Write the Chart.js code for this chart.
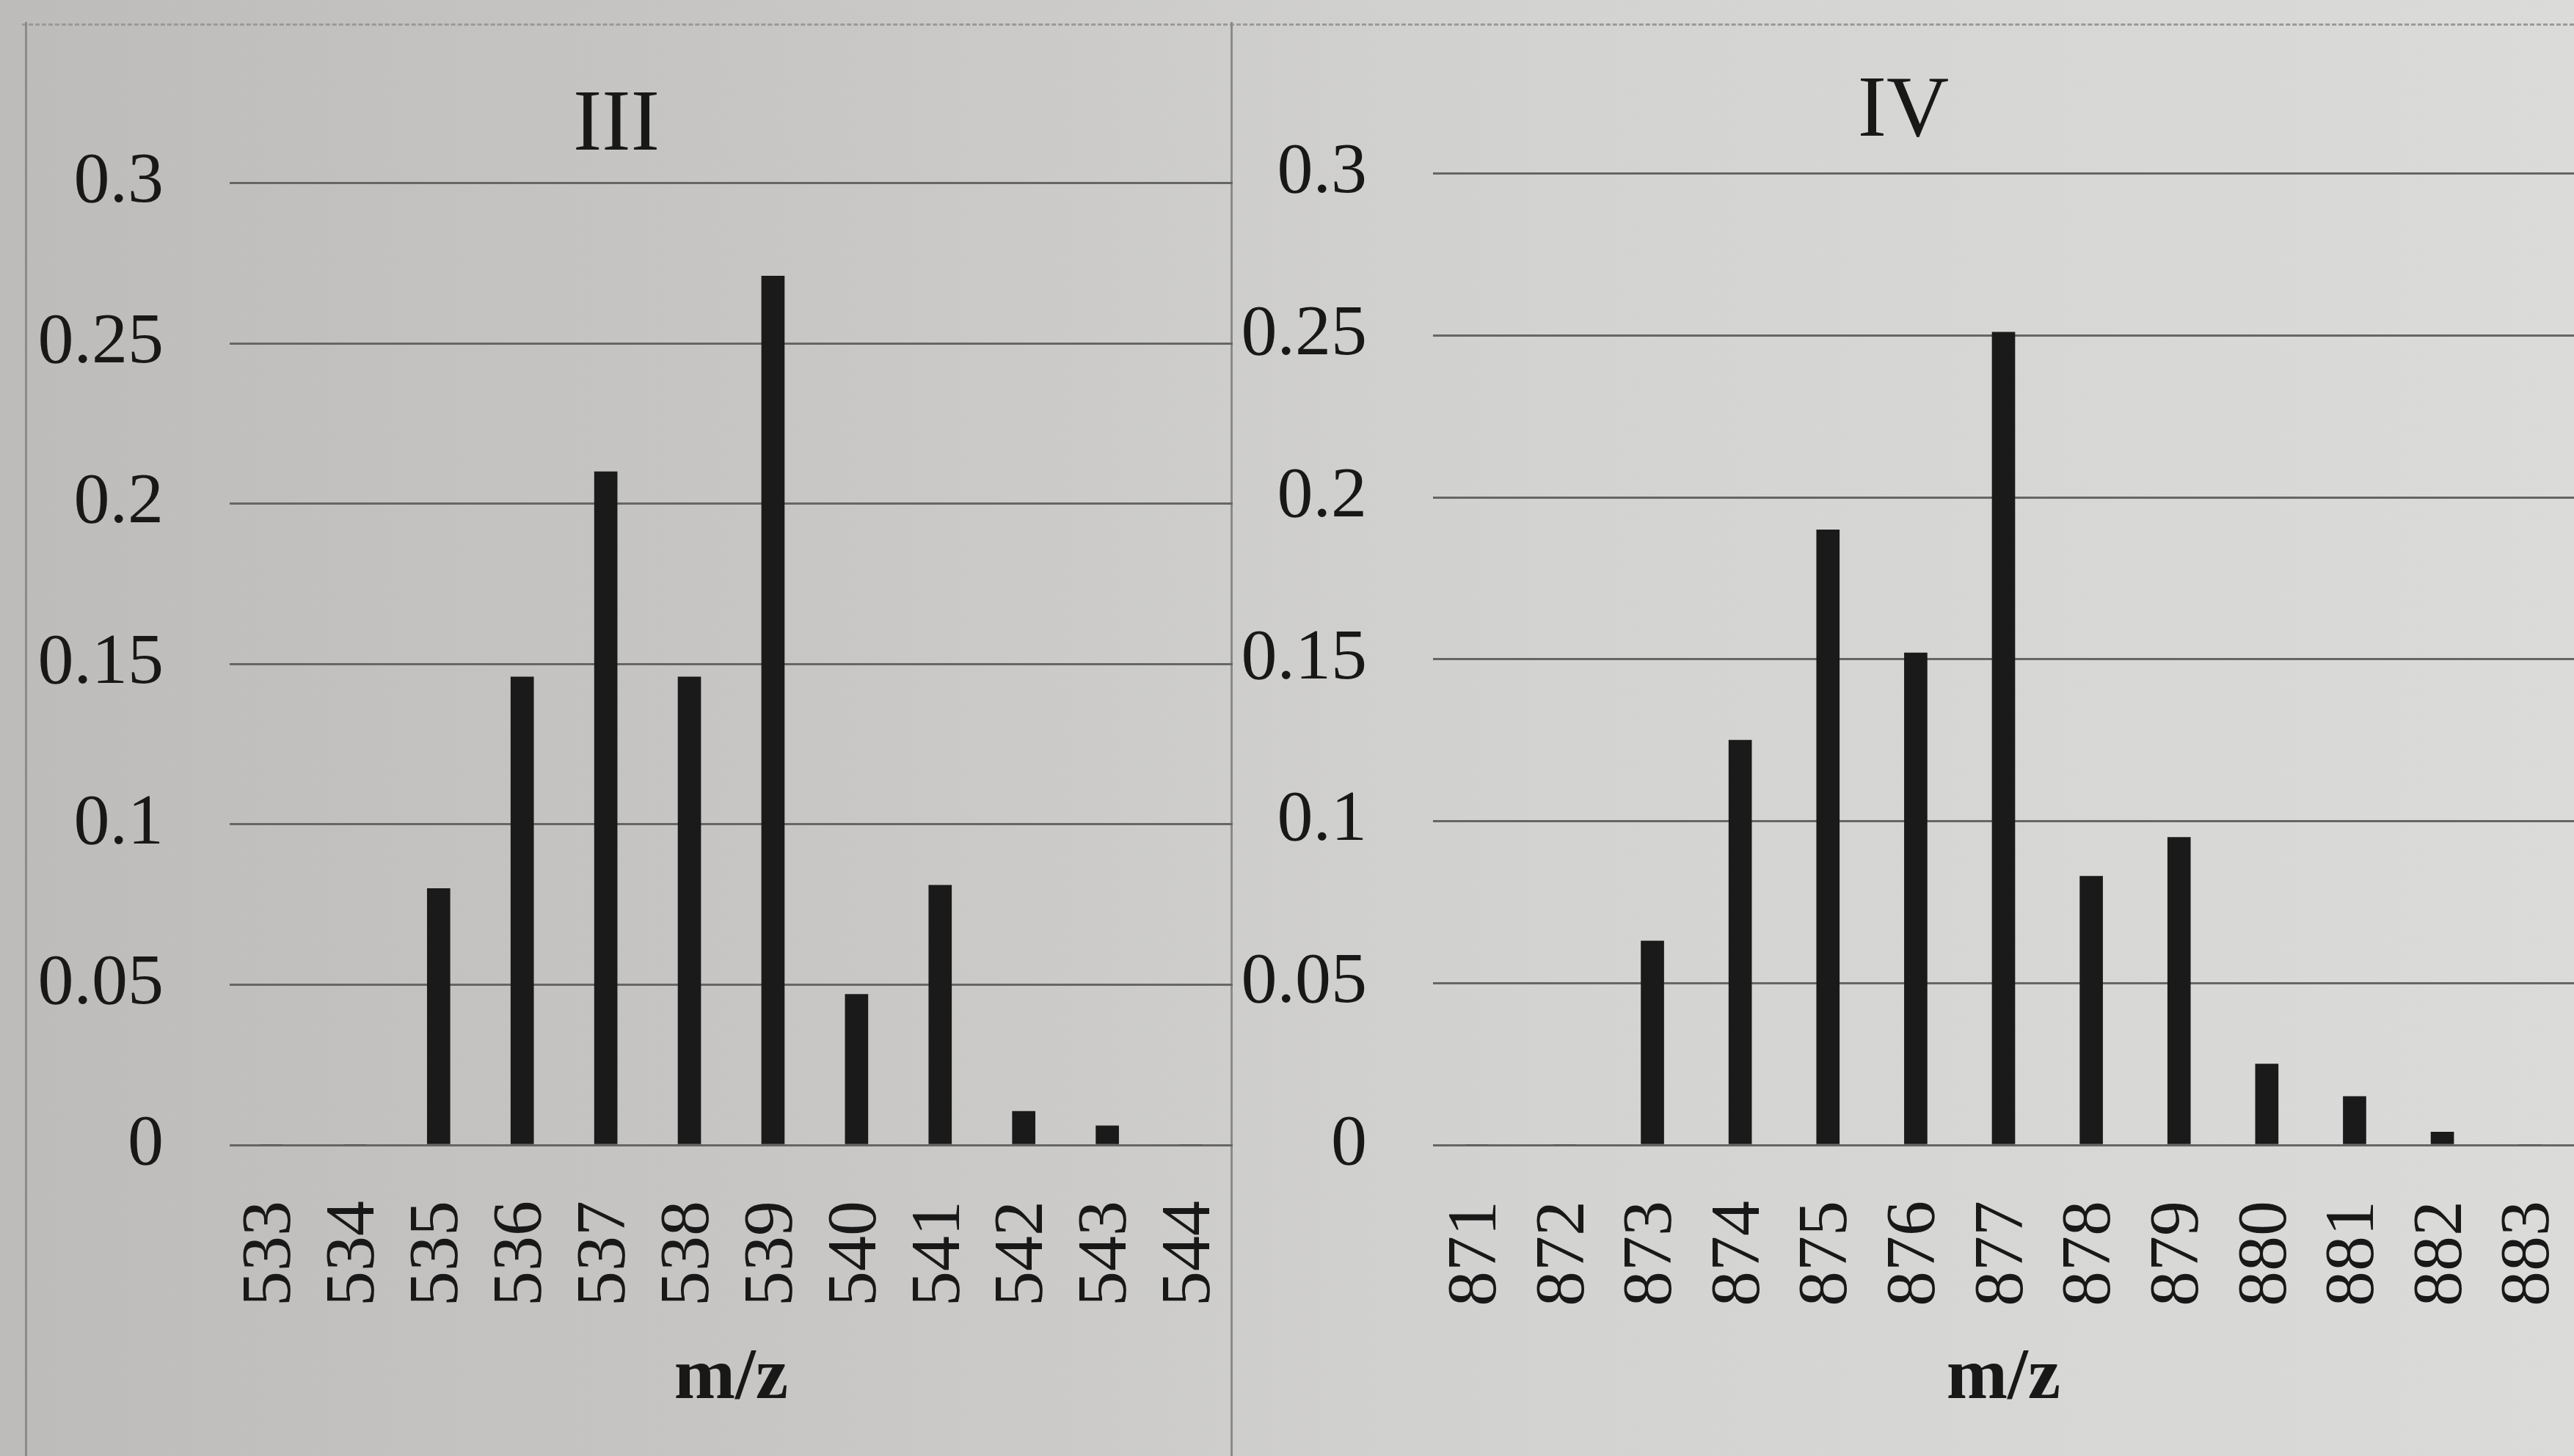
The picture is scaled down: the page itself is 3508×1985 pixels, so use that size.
<!DOCTYPE html>
<html>
<head>
<meta charset="utf-8">
<script src="https://cdn.jsdelivr.net/npm/chart.js@4.4.1/dist/chart.umd.min.js"></script>
<style>
  html, body { margin: 0; padding: 0; }
  body {
    width: 3508px; height: 1985px; overflow: hidden; position: relative;
    background: linear-gradient(to right, #bdbcba 0%, #c9c8c6 35%, #d3d3d1 60%, #dbdbd9 100%);
  }
  #p3 { position: absolute; left: 0; top: 0; width: 1680px; height: 1985px; }
  #p4 { position: absolute; left: 1680px; top: 0; width: 1828px; height: 1985px; }
  .frame { position: absolute; border-left: 3px solid #8a8a88; top: 30px; height: 1955px; }
  .topline { position: absolute; left: 30px; right: 0; top: 32px; border-top: 3px dashed #9a9a98; }
</style>
</head>
<body>
<div class="topline"></div>
<div class="frame" style="left:34px"></div>
<div class="frame" style="left:1677px"></div>
<div id="p3"><canvas id="c3"></canvas></div>
<div id="p4"><canvas id="c4"></canvas></div>
<script>
// m/z categories and relative abundances
var mz3 = ["533","534","535","536","537","538","539","540","541","542","543","544"];
var abund3 = [0, 0, 0.080, 0.146, 0.210, 0.146, 0.271, 0.047, 0.081, 0.0105, 0.006, 0];

var mz4 = ["871","872","873","874","875","876","877","878","879","880","881","882","883"];
var abund4 = [0, 0, 0.063, 0.125, 0.190, 0.152, 0.251, 0.083, 0.095, 0.025, 0.015, 0.004, 0];

var yTicks = [0, 0.05, 0.1, 0.15, 0.2, 0.25, 0.3];

Chart.defaults.font.family = "'Liberation Serif', 'DejaVu Serif', serif";
Chart.defaults.color = '#181818';

function makeChart(id, title, labels, values, yWidth, titlePad) {
  return new Chart(document.getElementById(id), {
    type: 'bar',
    data: {
      labels: labels,
      datasets: [{
        data: values,
        backgroundColor: '#1a1a1a',
        barThickness: 31
      }]
    },
    options: {
      responsive: true,
      maintainAspectRatio: false,
      animation: false,
      layout: { padding: 0 },
      plugins: {
        legend: { display: false },
        tooltip: { enabled: false },
        title: {
          display: true,
          text: title,
          font: { size: 118, weight: 'normal' },
          color: '#181818',
          padding: titlePad
        }
      },
      scales: {
        x: {
          grid: { display: false },
          border: { display: false },
          ticks: {
            minRotation: 90, maxRotation: 90, autoSkip: false,
            padding: 68,
            font: { size: 96 }
          },
          title: {
            display: true, text: 'm/z',
            font: { size: 100, weight: 'bold' },
            padding: { top: 0, bottom: 45 }
          },
          afterFit: function (s) {
            // keep the plot area flush with the panel edges
            s.height = 424;
            s.paddingLeft = 0;
            s.paddingRight = 0;
          }
        },
        y: {
          min: 0, max: 0.3,
          afterBuildTicks: function (s) { s.ticks = yTicks.map(function (v) { return { value: v }; }); },
          grid: { color: '#666664', lineWidth: 3, drawTicks: false },
          border: { display: false },
          ticks: {
            padding: 90,
            font: { size: 98 },
            callback: function (v) { return String(+v.toFixed(2)); }
          },
          afterFit: function (s) { s.width = yWidth; }
        }
      }
    }
  });
}

makeChart('c3', 'III', mz3, abund3, 313, { top: 102, bottom: 6 });
makeChart('c4', 'IV', mz4, abund4, 273, { top: 83, bottom: 12 });
</script>
</body>
</html>
